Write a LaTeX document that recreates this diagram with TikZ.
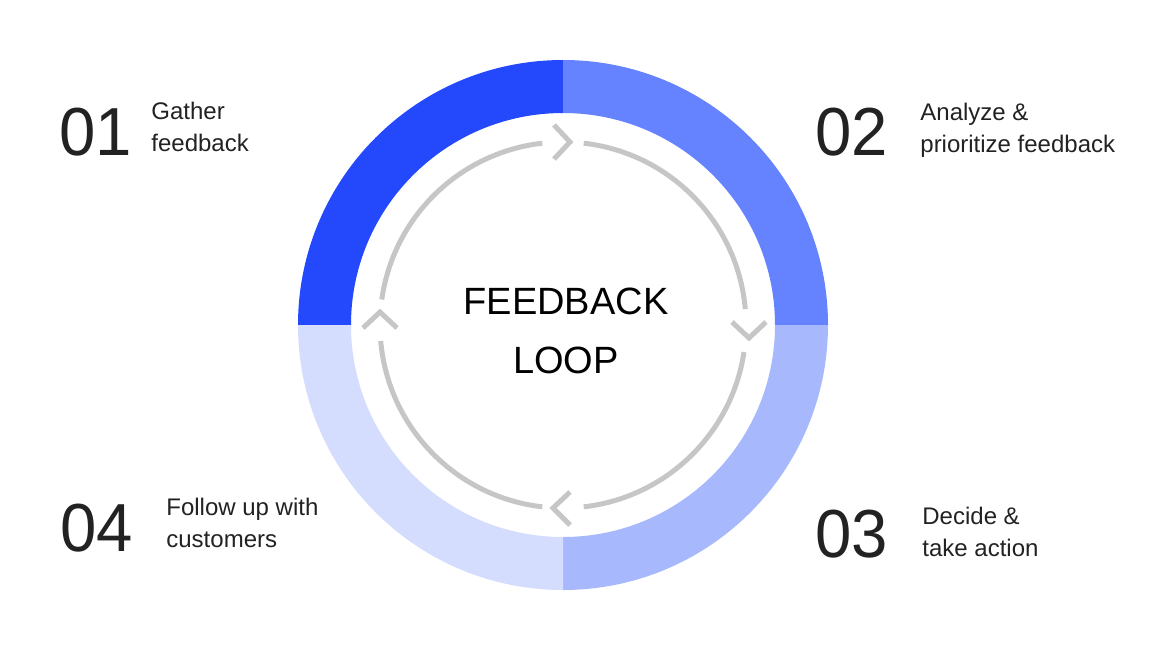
\documentclass[tikz,border=0pt]{standalone}
\usepackage{fontspec}
\setmainfont{Liberation Sans}
\newfontfamily\numfont[FakeStretch=0.96]{Liberation Sans}

\definecolor{qone}{HTML}{2449FD}
\definecolor{qtwo}{HTML}{6583FE}
\definecolor{qthree}{HTML}{A7B8FD}
\definecolor{qfour}{HTML}{D5DDFE}
\definecolor{loopgray}{HTML}{C6C6C6}
\definecolor{ink}{HTML}{222222}

\tikzset{
  stepnum/.style={anchor=base west, inner sep=0pt, text=ink, font=\numfont\fontsize{34}{34}\selectfont},
  steplabel/.style={anchor=base west, inner sep=0pt, text=ink, align=left, font=\fontsize{12}{16}\selectfont},
  chevron/.style={draw=loopgray, line width=2.5pt, line cap=butt, line join=miter},
}

\begin{document}
\begin{tikzpicture}[x=0.5pt, y=0.5pt]
\useasboundingbox (0,0) rectangle (1174,-650);
\coordinate (C) at (563,-325);

% ring quarters
\fill[qone] (C) ++(90:265) arc[start angle=90, end angle=180, radius=265] -- ++(53,0) arc[start angle=180, end angle=90, radius=212] -- cycle;
\fill[qtwo] (C) ++(0:265) arc[start angle=0, end angle=90, radius=265] -- ++(0,-53) arc[start angle=90, end angle=0, radius=212] -- cycle;
\fill[qthree] (C) ++(270:265) arc[start angle=270, end angle=360, radius=265] -- ++(-53,0) arc[start angle=360, end angle=270, radius=212] -- cycle;
\fill[qfour] (C) ++(180:265) arc[start angle=180, end angle=270, radius=265] -- ++(0,53) arc[start angle=270, end angle=180, radius=212] -- cycle;

% inner loop with gaps
\foreach \a/\b in {5/83.5, 96.5/172, 185/263.5, 276.5/351.5}
  \draw[loopgray, line width=2.5pt] (C) ++(\a:183) arc[start angle=\a, end angle=\b, radius=183];

% chevrons
\draw[chevron] (554,-125) -- (570,-142) -- (554,-159);
\draw[chevron] (732,-322) -- (749,-338) -- (766,-322);
\draw[chevron] (570,-492) -- (553,-508) -- (570,-525);
\draw[chevron] (363,-328) -- (380,-312) -- (397,-328);

% centre title
\node[anchor=base, inner sep=0pt, font=\fontsize{19}{19}\selectfont] (T1) at (566,-314) {FEEDBACK};
\node[anchor=base, inner sep=0pt, font=\fontsize{19}{19}\selectfont] (T2) at (566,-373) {LOOP};

% steps
\node[stepnum] (N1) at (59,-155) {01};
\node[steplabel] (L1) at (151,-151) {Gather\\feedback};
\node[stepnum] (N2) at (815,-155) {02};
\node[steplabel] (L2) at (920,-152) {Analyze \&\\prioritize feedback};
\node[stepnum] (N3) at (815,-557) {03};
\node[steplabel] (L3) at (922,-556) {Decide \&\\take action};
\node[stepnum] (N4) at (60,-551) {04};
\node[steplabel] (L4) at (166,-547) {Follow up with\\customers};
\end{tikzpicture}
\end{document}
